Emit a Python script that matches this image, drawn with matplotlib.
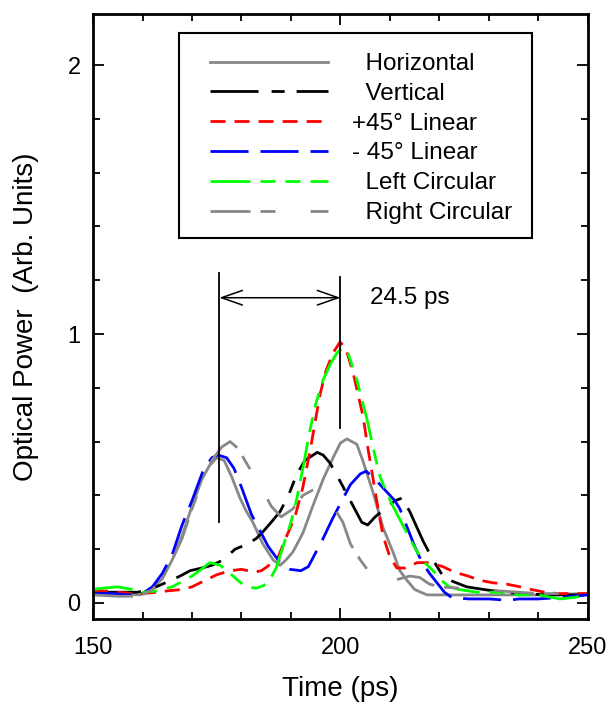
import numpy as np
import matplotlib
matplotlib.use('Agg')
import matplotlib.pyplot as plt
from matplotlib.patches import Rectangle

plt.rcParams['font.family'] = ['Liberation Sans', 'DejaVu Sans']
plt.rcParams['lines.scale_dashes'] = False

# --- data (time in ps, power in arb. units) ---
t_horiz = [150, 155, 159.5, 162, 164, 166, 168, 170, 172, 173.5, 175, 176.5, 178, 179.7, 181,
           182.3, 184.3, 186.4, 187.8, 189, 190.4, 192.4, 194.4, 196.5, 198.5, 200, 201.3,
           203.3, 204.5, 206.6, 208.6, 210.6, 212, 213.4, 215, 217.5, 220, 230, 240, 250]
p_horiz = [0.035, 0.035, 0.03, 0.055, 0.09, 0.16, 0.25, 0.36, 0.46, 0.51, 0.54, 0.53, 0.47, 0.39, 0.34,
           0.30, 0.22, 0.16, 0.14, 0.16, 0.19, 0.26, 0.36, 0.46, 0.54, 0.595, 0.61,
           0.59, 0.53, 0.41, 0.28, 0.19, 0.12, 0.085, 0.05, 0.03, 0.03, 0.03, 0.03, 0.035]

t_vert = [150, 155, 159, 161.5, 164, 167.6, 169.6, 172, 174, 176.3, 178.7, 181.3, 183, 184.1, 186,
          187.8, 189.5, 191.2, 192.8, 195.3, 196.5, 197.9, 200, 202, 204.3, 205.5, 207, 209.6,
          211, 212.4, 214, 216.7, 218.7, 220.7, 222.7, 225.5, 229, 232.8, 237, 241.7, 246, 250]
p_vert = [0.04, 0.04, 0.04, 0.05, 0.07, 0.10, 0.12, 0.13, 0.14, 0.16, 0.20, 0.22, 0.24, 0.26, 0.30,
          0.34, 0.40, 0.48, 0.53, 0.56, 0.55, 0.52, 0.45, 0.38, 0.30, 0.29, 0.32, 0.36,
          0.38, 0.39, 0.34, 0.23, 0.16, 0.10, 0.08, 0.06, 0.05, 0.04, 0.035, 0.03, 0.03, 0.03]

t_p45 = [150, 152, 155, 158, 160, 163, 165, 168, 170, 172.2, 175, 177.7, 180, 182.7, 184, 185.2,
         187.4, 188.8, 190.8, 192.4, 194, 195.8, 197, 198.5, 199.9, 201, 202.5, 203.5, 204.6,
         205.5, 206.6, 207.6, 208.6, 210, 211.4, 213, 215.5, 218, 220.7, 223, 225.8, 228,
         230.8, 233.6, 236.3, 238.6, 241.3, 244, 250]
p_p45 = [0.045, 0.045, 0.04, 0.035, 0.035, 0.04, 0.045, 0.05, 0.06, 0.08, 0.105, 0.12, 0.125, 0.115, 0.12, 0.135,
         0.17, 0.235, 0.32, 0.43, 0.58, 0.77, 0.86, 0.93, 0.97, 0.95, 0.86, 0.78, 0.69,
         0.58, 0.46, 0.35, 0.25, 0.17, 0.13, 0.13, 0.15, 0.15, 0.135, 0.115, 0.10, 0.085,
         0.075, 0.07, 0.06, 0.05, 0.04, 0.035, 0.035]

t_m45 = [150, 154, 157, 160, 162, 164, 166, 168, 170, 172.2, 174, 175.3, 177, 178.5, 180, 182,
         183.7, 185.4, 187.8, 189.8, 192, 193.5, 194.5, 196.5, 198.3, 200, 202, 204, 205.2,
         207, 209, 211, 212, 213.5, 215, 216.5, 218, 219.5, 221, 222.5, 226, 230, 234, 236,
         240, 244, 247, 250]
p_m45 = [0.035, 0.035, 0.03, 0.035, 0.06, 0.11, 0.18, 0.29, 0.38, 0.49, 0.54, 0.55, 0.54, 0.50, 0.43, 0.33,
         0.27, 0.21, 0.15, 0.125, 0.12, 0.135, 0.17, 0.24, 0.31, 0.37, 0.44, 0.48, 0.49,
         0.46, 0.42, 0.38, 0.35, 0.28, 0.21, 0.15, 0.11, 0.075, 0.04, 0.02, 0.015, 0.015, 0.01, 0.015,
         0.015, 0.02, 0.025, 0.03]

t_lcp = [150, 152, 155, 158, 160, 163, 166, 168, 170, 171.5, 173.6, 175.7, 177.7, 179.5, 181, 183,
         184.5, 185.7, 187, 188.4, 190, 191.2, 192.5, 193.8, 195, 196.5, 198, 199.3, 200.5,
         201.5, 203.3, 205.4, 206.8, 208, 209.3, 210.6, 212.3, 214, 215.5, 217, 218.7, 220.7,
         222, 224, 227.6, 232, 236, 240, 244.3, 247, 250]
p_lcp = [0.05, 0.055, 0.06, 0.05, 0.04, 0.045, 0.06, 0.08, 0.10, 0.12, 0.15, 0.14, 0.11, 0.08, 0.06, 0.055,
         0.065, 0.085, 0.13, 0.21, 0.30, 0.39, 0.51, 0.64, 0.74, 0.83, 0.89, 0.93, 0.95,
         0.93, 0.83, 0.68, 0.56, 0.47, 0.41, 0.36, 0.30, 0.24, 0.19, 0.15, 0.12, 0.08,
         0.06, 0.05, 0.04, 0.04, 0.03, 0.03, 0.015, 0.02, 0.03]

t_rcp = [150, 155, 158, 160, 162, 164, 166, 168, 170, 172, 174, 176, 177.7, 179.3, 181, 183, 184.3,
         186, 188, 190.4, 192.4, 194.4, 195.5, 197, 198.5, 200.5, 202, 204, 206, 208, 210, 212,
         214, 216, 218, 220, 224, 228, 232, 236, 240, 245, 250]
p_rcp = [0.03, 0.025, 0.025, 0.03, 0.05, 0.09, 0.16, 0.24, 0.35, 0.45, 0.53, 0.58, 0.60, 0.575, 0.52, 0.46, 0.42,
         0.36, 0.32, 0.35, 0.40, 0.42, 0.425, 0.40, 0.36, 0.30, 0.22, 0.16, 0.11, 0.085, 0.08, 0.09,
         0.10, 0.095, 0.07, 0.06, 0.055, 0.055, 0.045, 0.04, 0.035, 0.035, 0.035]

labels = ['  Horizontal', '  Vertical', '+45\u00b0 Linear', '- 45\u00b0 Linear',
          '  Left Circular', '  Right Circular']

# pulse separation marker
t_left, t_right = 175.5, 200.0
delay_text = '24.5 ps'

fig = plt.figure(figsize=(6.08, 7.07), dpi=100)
ax = fig.add_axes([0.153, 0.1245, 0.814, 0.8557])

lw = 2.0
ax.plot(t_horiz, p_horiz, color='#888888', lw=lw, label=labels[0])
ax.plot(t_vert, p_vert, color='black', lw=lw, dashes=(34.6, 9.4, 9.4, 8.6), label=labels[1])
ax.plot(t_p45, p_p45, color='#ff0000', lw=lw, dashes=(10.8, 6.5), label=labels[2])
ax.plot(t_m45, p_m45, color='#0000ff', lw=lw, dashes=(27.4, 8.6), label=labels[3])
ax.plot(t_lcp, p_lcp, color='#00ff00', lw=lw, dashes=(28.8, 7.2, 10.8, 7.2, 10.8, 7.2), label=labels[4])
ax.plot(t_rcp, p_rcp, color='#888888', lw=lw, dashes=(28.8, 7.2, 10.8, 25.2), label=labels[5])

# delay annotation
ax.plot([t_left, t_left], [0.30, 1.227], color='black', lw=1.3)
ax.plot([t_right, t_right], [0.65, 1.212], color='black', lw=1.3)
ax.annotate('', xy=(t_left, 1.135), xytext=(t_right, 1.135),
            arrowprops=dict(arrowstyle='<->,head_length=1.0,head_width=0.35',
                            mutation_scale=15, lw=1.1, color='black',
                            shrinkA=0, shrinkB=0))
ax.text(206, 1.135, delay_text, fontsize=17.5, va='center', ha='left')

ax.set_xlim(150, 250)
ax.set_ylim(-0.0595, 2.19)
ax.set_xticks([150, 200, 250])
ax.set_xticks(np.arange(150, 251, 10), minor=True)
ax.set_yticks([0, 1, 2])
ax.set_yticks(np.arange(0, 2.19, 0.2), minor=True)
ax.tick_params(which='both', direction='in', top=True, right=True, width=1.3)
ax.tick_params(which='major', length=8)
ax.tick_params(which='minor', length=5)
ax.tick_params(axis='x', which='major', labelsize=17, pad=13)
ax.tick_params(axis='y', which='major', labelsize=17, pad=9)
for s in ax.spines.values():
    s.set_linewidth(2.0)

ax.set_xlabel('Time (ps)', fontsize=20)
ax.set_ylabel('Optical Power  (Arb. Units)', fontsize=20)
ax.xaxis.set_label_coords(0.5, -0.094)
ax.yaxis.set_label_coords(-0.109, 0.5)

leg = ax.legend(loc='upper left', bbox_to_anchor=(0.236, 0.9354), frameon=False,
                fontsize=17.5, handlelength=4.85, handletextpad=1.0,
                labelspacing=0.32, borderpad=0, borderaxespad=0)
ax.add_patch(Rectangle((0.1737, 0.630), 0.887 - 0.1737, 0.9686 - 0.630,
                       transform=ax.transAxes, fill=False, ec='black', lw=1.5, zorder=5))

fig.savefig('out.png', dpi=100)
